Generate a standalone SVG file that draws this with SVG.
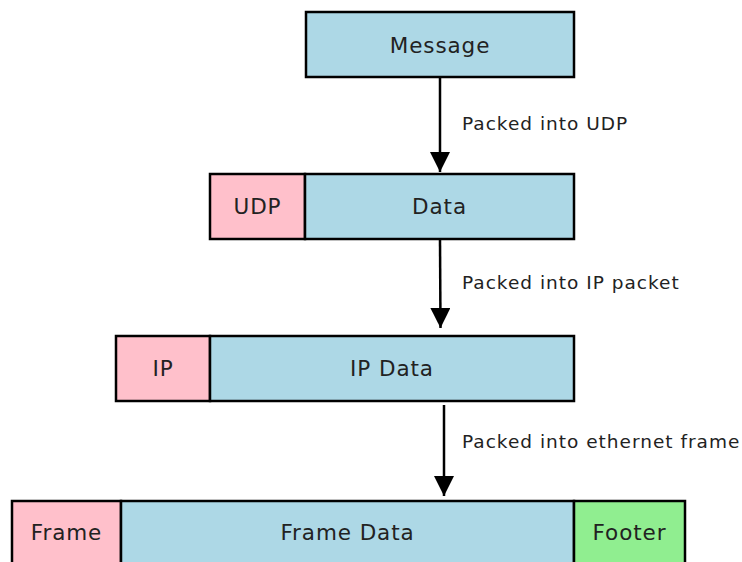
<svg xmlns="http://www.w3.org/2000/svg" width="742" height="562" viewBox="0 0 742 562">
<defs>
<marker id="ah" viewBox="0 0 20 20" refX="20" refY="10" markerWidth="20" markerHeight="20" markerUnits="userSpaceOnUse" orient="auto">
<path d="M0,0 L20,10 L0,20 Z" fill="#000"/>
</marker>
<style>
.b{stroke:#000;stroke-width:2.5}
.blue{fill:#add8e6}
.pink{fill:#ffc0cb}
.green{fill:#90ee90}
.t{font-family:"DejaVu Sans",Verdana,sans-serif;font-size:21.5px;letter-spacing:0.9px;fill:#222;text-anchor:middle;dominant-baseline:central}
.l{font-family:"DejaVu Sans",Verdana,sans-serif;font-size:18.5px;letter-spacing:1px;fill:#222;dominant-baseline:central}
.c{stroke:#000;stroke-width:2.5;fill:none}
</style>
</defs>
<g id="message">
<rect class="b blue" x="306" y="12" width="268" height="65"/>
<text class="t" x="440" y="45.5">Message</text>
</g>
<g id="udp-row">
<rect class="b pink" x="210" y="174" width="95" height="65"/>
<text class="t" x="257.5" y="206.5">UDP</text>
<rect class="b blue" x="305" y="174" width="269" height="65"/>
<text class="t" x="439.5" y="206.5">Data</text>
</g>
<g id="ip-row">
<rect class="b pink" x="116" y="336" width="94" height="65"/>
<text class="t" x="163" y="368.5">IP</text>
<rect class="b blue" x="210" y="336" width="364" height="65"/>
<text class="t" x="392" y="368.5">IP Data</text>
</g>
<g id="frame-row">
<rect class="b pink" x="12" y="501" width="109" height="65"/>
<text class="t" x="66.5" y="532.5">Frame</text>
<rect class="b blue" x="121" y="501" width="453" height="65"/>
<text class="t" x="347.5" y="532.5">Frame Data</text>
<rect class="b green" x="574" y="501" width="111" height="65"/>
<text class="t" x="629.5" y="532.5">Footer</text>
</g>
<g id="connectors">
<line class="c" x1="440" y1="78" x2="440" y2="172" marker-end="url(#ah)"/>
<line class="c" x1="440" y1="240" x2="440.5" y2="328" marker-end="url(#ah)"/>
<line class="c" x1="444" y1="405" x2="444" y2="496" marker-end="url(#ah)"/>
<text class="l" x="462" y="123">Packed into UDP</text>
<text class="l" x="462" y="282">Packed into IP packet</text>
<text class="l" x="462" y="441">Packed into ethernet frame</text>
</g>
</svg>
